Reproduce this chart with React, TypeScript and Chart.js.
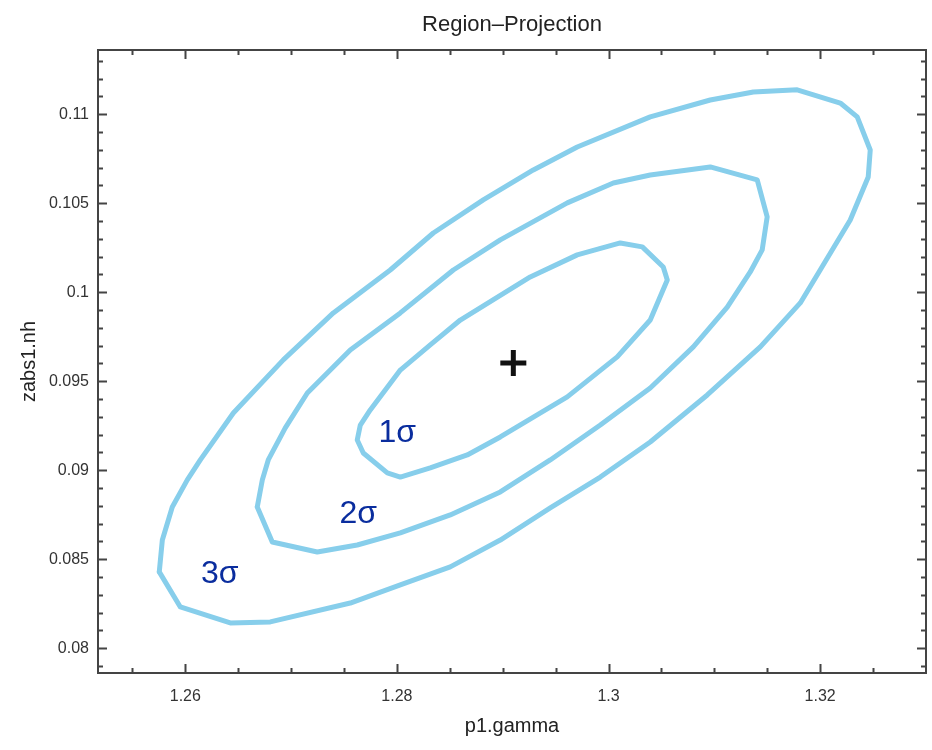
import React, { useEffect, useRef } from "react";
import { Chart, registerables } from "chart.js";

Chart.register(...registerables);

// ---- axis ticks ----
const xTicks = [1.26, 1.28, 1.3, 1.32];
const xTickLabels = ["1.26", "1.28", "1.3", "1.32"];
const yTicks = [0.08, 0.085, 0.09, 0.095, 0.1, 0.105, 0.11];
const yTickLabels = ["0.08", "0.085", "0.09", "0.095", "0.1", "0.105", "0.11"];
const xMin = 1.25175;
const xMax = 1.33;
const yMin = 0.07861;
const yMax = 0.11361;

// ---- contour data (p1.gamma, zabs1.nh) ----
const sigma3X = [
  1.25754, 1.25783, 1.25877, 1.26019, 1.26142, 1.26454, 1.26926, 1.27399, 1.27937, 1.28344,
  1.28816, 1.29289, 1.29704, 1.30394, 1.30961, 1.31368, 1.31783, 1.3219, 1.3235, 1.32473,
  1.32454, 1.32284, 1.32, 1.31812, 1.31434, 1.30933, 1.30394, 1.29922, 1.29449, 1.28977,
  1.28504, 1.28032, 1.27559, 1.26803, 1.26425, 1.25953, 1.25754,
];
const sigma3Y = [
  0.08429, 0.08608, 0.08794, 0.08946, 0.09058, 0.09322, 0.0962, 0.09884, 0.10125, 0.10333,
  0.10519, 0.10687, 0.10816, 0.10985, 0.1108, 0.11125, 0.11137, 0.11063, 0.10985, 0.10799,
  0.10648, 0.10406, 0.10125, 0.0994, 0.09693, 0.09423, 0.09159, 0.08962, 0.08788, 0.08608,
  0.08457, 0.08356, 0.08254, 0.08148, 0.08142, 0.08232, 0.08429,
];

const sigma2X = [
  1.2668, 1.26728, 1.26784, 1.26945, 1.27153, 1.27559, 1.28032, 1.28533, 1.28977, 1.2961,
  1.30045, 1.30394, 1.30961, 1.31405, 1.31499, 1.31452, 1.31339, 1.31122, 1.30801, 1.30394,
  1.29922, 1.29449, 1.28977, 1.28504, 1.28032, 1.27625, 1.27247, 1.26822, 1.2668,
];
const sigma2Y = [
  0.08794, 0.08946, 0.09058, 0.09238, 0.09434, 0.09676, 0.09884, 0.10125, 0.10294, 0.10502,
  0.10614, 0.10659, 0.10704, 0.10631, 0.10423, 0.10238, 0.10114, 0.09917, 0.09693, 0.09462,
  0.09254, 0.09058, 0.08878, 0.08749, 0.08648, 0.0858, 0.08541, 0.08597, 0.08794,
];

const sigma1X = [
  1.28032, 1.28315, 1.28599, 1.2926, 1.29704, 1.30111, 1.30319, 1.30517, 1.30555, 1.30394,
  1.30082, 1.2961, 1.28977, 1.28665, 1.28315, 1.28032, 1.27909, 1.27682, 1.27625, 1.27654,
  1.27748, 1.2789, 1.28032,
];
const sigma1Y = [
  0.09563, 0.09704, 0.09844, 0.10086, 0.1021, 0.10277, 0.10255, 0.10142, 0.10069, 0.09844,
  0.09637, 0.09412, 0.09187, 0.09086, 0.09013, 0.08962, 0.08985, 0.09097, 0.0917, 0.09254,
  0.09339, 0.09451, 0.09563,
];

const bestFitX = [1.291];
const bestFitY = [0.09603];

const sigmaLabels = ["1σ", "2σ", "3σ"];
const sigmaLabelX = [1.28003, 1.27635, 1.26326];
const sigmaLabelY = [0.0921, 0.08754, 0.08417];

const FONT = "'Liberation Sans', Arial, Helvetica, sans-serif";
const CONTOUR_COLOR = "#87ceeb";
const AXIS_COLOR = "#444444";

const toPoints = (xs: number[], ys: number[]) => xs.map((x, i) => ({ x, y: ys[i] }));

const frameAndTicksPlugin = {
  id: "frameAndTicks",
  afterDraw(chart: any) {
    const { ctx, chartArea, scales } = chart;
    const { left, right, top, bottom } = chartArea;
    const xs = scales.x;
    const ys = scales.y;
    ctx.save();
    ctx.strokeStyle = AXIS_COLOR;
    ctx.lineWidth = 2;
    ctx.strokeRect(left, top, right - left, bottom - top);
    const major = 9;
    const minor = 5;
    ctx.beginPath();
    // x ticks every 0.005, major every 0.02
    for (let k = Math.ceil(xMin / 0.005); k * 0.005 <= xMax + 1e-9; k++) {
      const v = k * 0.005;
      const isMajor = k % 4 === 0;
      const len = isMajor ? major : minor;
      const px = Math.round(xs.getPixelForValue(v)) + 0.5;
      if (px <= left + 1 || px >= right - 1) continue;
      ctx.moveTo(px, bottom);
      ctx.lineTo(px, bottom - len);
      ctx.moveTo(px, top);
      ctx.lineTo(px, top + len);
    }
    // y ticks every 0.001, major every 0.005
    for (let k = Math.ceil(yMin / 0.001); k * 0.001 <= yMax + 1e-9; k++) {
      const v = k * 0.001;
      const isMajor = k % 5 === 0;
      const len = isMajor ? major : minor;
      const py = Math.round(ys.getPixelForValue(v)) + 0.5;
      if (py <= top + 1 || py >= bottom - 1) continue;
      ctx.moveTo(left, py);
      ctx.lineTo(left + len, py);
      ctx.moveTo(right, py);
      ctx.lineTo(right - len, py);
    }
    ctx.stroke();
    ctx.restore();
  },
};

const sigmaLabelPlugin = {
  id: "sigmaLabels",
  afterDatasetsDraw(chart: any) {
    const { ctx, scales } = chart;
    ctx.save();
    ctx.fillStyle = "#0a2d9e";
    ctx.font = `32px ${FONT}`;
    ctx.textAlign = "center";
    ctx.textBaseline = "middle";
    sigmaLabels.forEach((t, i) => {
      ctx.fillText(t, scales.x.getPixelForValue(sigmaLabelX[i]), scales.y.getPixelForValue(sigmaLabelY[i]));
    });
    ctx.restore();
  },
};

export default function App() {
  const ref = useRef<HTMLCanvasElement | null>(null);
  useEffect(() => {
    if (!ref.current) return;
    const contour = (label: string, xs: number[], ys: number[]) => ({
      label,
      data: toPoints(xs, ys),
      showLine: true,
      borderColor: CONTOUR_COLOR,
      backgroundColor: CONTOUR_COLOR,
      borderWidth: 5,
      pointRadius: 0,
      tension: 0,
      borderJoinStyle: "round",
      borderCapStyle: "round",
      fill: false,
    });
    const chart = new Chart(ref.current, {
      type: "scatter",
      data: {
        datasets: [
          contour("3σ", sigma3X, sigma3Y),
          contour("2σ", sigma2X, sigma2Y),
          contour("1σ", sigma1X, sigma1Y),
          {
            label: "best fit",
            data: toPoints(bestFitX, bestFitY),
            pointStyle: "cross",
            pointRadius: 13,
            borderWidth: 5,
            borderColor: "#111111",
            backgroundColor: "#111111",
          },
        ] as any,
      },
      options: {
        responsive: false,
        animation: false,
        events: [],
        layout: { autoPadding: false, padding: { left: 0, top: 0, right: 6, bottom: 0 } },
        plugins: {
          legend: { display: false },
          tooltip: { enabled: false },
          title: {
            display: true,
            text: "Region–Projection",
            fullSize: false,
            color: "#222222",
            font: { family: FONT, size: 22, weight: "normal" },
            padding: { top: 12, bottom: 11.6 },
          },
        },
        scales: {
          x: {
            type: "linear",
            min: xMin,
            max: xMax,
            afterBuildTicks: (s: any) => {
              s.ticks = xTicks.map((v) => ({ value: v }));
            },
            afterFit: (s: any) => {
              s.height = 77;
              s.paddingLeft = 0;
              s.paddingRight = 0;
            },
            ticks: {
              callback: (v: any) => xTickLabels[xTicks.indexOf(Number(v))] ?? "",
              color: "#333333",
              font: { family: FONT, size: 16 },
              padding: 14,
              maxRotation: 0,
            },
            grid: { display: false, drawTicks: false },
            border: { display: false },
            title: {
              display: true,
              text: "p1.gamma",
              color: "#222222",
              font: { family: FONT, size: 20 },
              padding: { top: 0, bottom: 12 },
            },
          },
          y: {
            type: "linear",
            min: yMin,
            max: yMax,
            afterBuildTicks: (s: any) => {
              s.ticks = yTicks.map((v) => ({ value: v }));
            },
            afterFit: (s: any) => {
              s.width = 98;
              s.paddingTop = 0;
              s.paddingBottom = 0;
            },
            ticks: {
              callback: (v: any) => {
                const i = yTicks.findIndex((t) => Math.abs(t - Number(v)) < 1e-9);
                return i >= 0 ? yTickLabels[i] : "";
              },
              color: "#333333",
              font: { family: FONT, size: 16 },
              padding: 9,
            },
            grid: { display: false, drawTicks: false },
            border: { display: false },
            title: {
              display: true,
              text: "zabs1.nh",
              color: "#222222",
              font: { family: FONT, size: 20 },
              padding: { top: 17, bottom: 0 },
            },
          },
        },
      } as any,
      plugins: [frameAndTicksPlugin, sigmaLabelPlugin],
    });
    return () => chart.destroy();
  }, []);
  return (
    <div style={{ position: "fixed", left: 0, top: 0, width: 932, height: 750, background: "#fff" }}>
      <canvas ref={ref} width={932} height={750} style={{ width: 932, height: 750 }} />
    </div>
  );
}
